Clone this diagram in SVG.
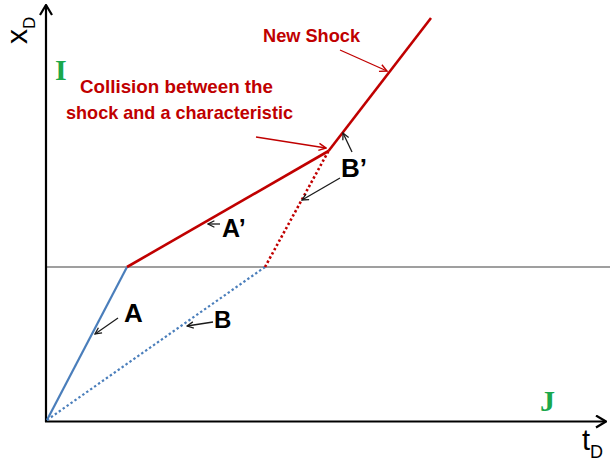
<svg xmlns="http://www.w3.org/2000/svg" width="610" height="461" viewBox="0 0 610 461">
<defs>
<style>
.ax{stroke:#000;stroke-width:2.2;fill:none}
.grid{stroke:#7f7f7f;stroke-width:1.5;fill:none}
.blue{stroke:#4a7ebb;stroke-width:2.2;fill:none}
.red{stroke:#c00000;stroke-width:2.6;fill:none}
.dot{stroke-dasharray:2.4 2.4}
.ptr{stroke:#1a1a1a;stroke-width:1.3;fill:none}
.rptr{stroke:#c00000;stroke-width:1.3;fill:none}
.lbl{font-family:"Liberation Sans",Arial,sans-serif;font-weight:bold;fill:#000}
.rlbl{font-family:"Liberation Sans",Arial,sans-serif;font-weight:bold;fill:#c00000;font-size:19px}
.zone{font-family:"Liberation Serif","Times New Roman",serif;font-weight:bold;fill:#1aa84c;font-size:30px}
.axl{font-family:"Liberation Sans",Arial,sans-serif;fill:#000}
</style>
<marker id="ah" viewBox="0 0 10 10" refX="9" refY="5" markerWidth="8" markerHeight="8" markerUnits="userSpaceOnUse" orient="auto">
<path d="M1,1 L9,5 L1,9" fill="none" stroke="#1a1a1a" stroke-width="1.6"/>
</marker>
<marker id="rh" viewBox="0 0 10 10" refX="9" refY="5" markerWidth="9" markerHeight="9" markerUnits="userSpaceOnUse" orient="auto">
<path d="M1,1 L9,5 L1,9" fill="none" stroke="#c00000" stroke-width="1.6"/>
</marker>
<marker id="axh" viewBox="0 0 12 14" refX="11" refY="7" markerWidth="12" markerHeight="14" markerUnits="userSpaceOnUse" orient="auto">
<path d="M1,1 L11,7 L1,13" fill="none" stroke="#000" stroke-width="2.2"/>
</marker>
</defs>
<rect width="610" height="461" fill="#fff"/>

<g id="axes">
<line class="grid" x1="46" y1="267" x2="610" y2="267"/>
<line class="ax" x1="46" y1="422" x2="46" y2="5" marker-end="url(#axh)"/>
<line class="ax" x1="45" y1="421.5" x2="606" y2="421.5" marker-end="url(#axh)"/>
<text class="axl" font-size="30" transform="translate(27,44) rotate(-90)">x<tspan font-size="17" dy="8">D</tspan></text>
<text class="axl" font-size="29" x="582" y="450">t<tspan font-size="18" dy="8">D</tspan></text>
</g>

<g id="zone-I"><text class="zone" x="55" y="80">I</text></g>
<g id="zone-J"><text class="zone" x="540" y="411" font-size="32">J</text></g>

<g id="curve-A"><line class="blue" x1="47" y1="420" x2="127" y2="267"/></g>
<g id="curve-B"><line class="blue dot" x1="47" y1="420" x2="265" y2="267"/></g>
<g id="curve-A-prime"><line class="red" x1="127" y1="267" x2="328.5" y2="151"/></g>
<g id="curve-B-prime"><line class="red dot" x1="265" y1="267" x2="328.5" y2="151"/></g>
<g id="new-shock"><line class="red" x1="328.5" y1="151" x2="431" y2="18"/></g>

<g id="connectors">
<line class="ptr" x1="118" y1="318" x2="95" y2="334" marker-end="url(#ah)"/>
<line class="ptr" x1="213" y1="322" x2="187" y2="326" marker-end="url(#ah)"/>
<line class="ptr" x1="220" y1="224" x2="208" y2="224" marker-end="url(#ah)"/>
<line class="ptr" x1="352" y1="152" x2="343" y2="133" marker-end="url(#ah)"/>
<line class="ptr" x1="340" y1="178" x2="302" y2="200" marker-end="url(#ah)"/>
<line class="rptr" x1="340" y1="50" x2="387" y2="71" marker-end="url(#rh)"/>
<line class="rptr" x1="256" y1="137" x2="326" y2="148" marker-end="url(#rh)"/>
</g>

<g id="label-A"><text class="lbl" font-size="26" x="124" y="322">A</text></g>
<g id="label-B"><text class="lbl" font-size="24" x="214" y="328">B</text></g>
<g id="label-A-prime"><text class="lbl" font-size="25" x="222" y="237">A’</text></g>
<g id="label-B-prime"><text class="lbl" font-size="26" x="341" y="177">B’</text></g>
<g id="label-new-shock"><text class="rlbl" x="263" y="42" textLength="97" lengthAdjust="spacingAndGlyphs">New Shock</text></g>
<g id="label-collision">
<text class="rlbl" x="80" y="93" textLength="193" lengthAdjust="spacingAndGlyphs">Collision between the</text>
<text class="rlbl" x="66" y="119" textLength="227" lengthAdjust="spacingAndGlyphs">shock and a characteristic</text>
</g>
</svg>
